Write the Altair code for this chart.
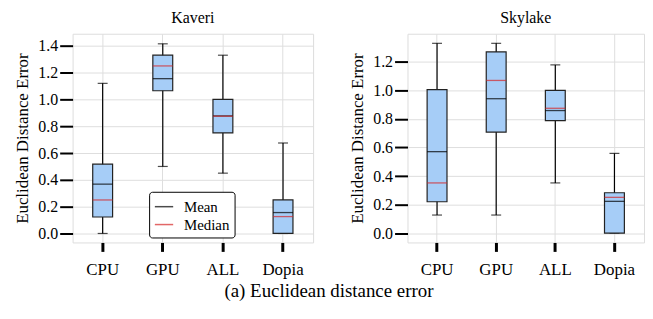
import altair as alt
import pandas as pd

cats = ["CPU", "GPU", "ALL", "Dopia"]

kaveri_low = [0.0, 0.50, 0.45, 0.0]
kaveri_q1 = [0.123, 1.065, 0.75, 0.0]
kaveri_q3 = [0.517, 1.33, 1.0, 0.25]
kaveri_high = [1.12, 1.415, 1.33, 0.675]
kaveri_mean = [0.368, 1.155, 0.877, 0.156]
kaveri_median = [0.25, 1.25, 0.875, 0.126]

skylake_low = [0.127, 0.127, 0.352, 0.0]
skylake_q1 = [0.22, 0.708, 0.789, 0.0]
skylake_q3 = [1.005, 1.27, 1.0, 0.283]
skylake_high = [1.33, 1.33, 1.179, 0.559]
skylake_mean = [0.571, 0.942, 0.859, 0.223]
skylake_median = [0.352, 1.07, 0.875, 0.251]

FONT = "Liberation Serif"
BOX_FILL = "#a6cdf7"
RED = "#d62728"
GRID = "#dedede"


def panel(title, low, q1, q3, high, mean, median, domain, ticks, width, legend):
    df = pd.DataFrame({"cat": cats, "low": low, "q1": q1, "q3": q3, "high": high})
    stats = pd.DataFrame({
        "cat": cats * 2,
        "value": mean + median,
        "stat": ["Mean"] * 4 + ["Median"] * 4,
    })
    xaxis = alt.Axis(labelAngle=0, tickWidth=3, tickSize=9, tickColor="black",
                     labelFontSize=17, labelPadding=10, domain=False,
                     grid=True, gridColor=GRID, bandPosition=0.5,
                     labelColor="black", labelFont=FONT)
    x = alt.X("cat:N", sort=cats, title=None,
              scale=alt.Scale(domain=cats, paddingInner=0, paddingOuter=0), axis=xaxis)
    yscale = alt.Scale(domain=domain, nice=False, zero=False)
    yaxis = alt.Axis(values=ticks, format=".1f", tickSize=13, tickWidth=2, tickColor="black",
                     labelFontSize=16, labelFont=FONT, labelColor="black", domain=False,
                     grid=True, gridColor=GRID, title="Euclidean Distance Error",
                     titleFontSize=17, titleFont=FONT, titleFontWeight="normal",
                     titleColor="black", titlePadding=6, labelPadding=2)

    def Y(field):
        return alt.Y(field, scale=yscale, axis=yaxis)

    base = alt.Chart(df)
    whisk = base.mark_rule(color="black", strokeWidth=1.2).encode(x=x, y=Y("low:Q"), y2="high:Q")
    cap_lo = base.mark_tick(color="black", size=10, thickness=1.2).encode(x=x, y=Y("low:Q"))
    cap_hi = base.mark_tick(color="black", size=10, thickness=1.2).encode(x=x, y=Y("high:Q"))
    box = base.mark_bar(size=20, fill=BOX_FILL, stroke="#222222", strokeWidth=1.2).encode(
        x=x, y=Y("q1:Q"), y2="q3:Q")
    sc = alt.Scale(domain=["Mean", "Median"], range=["black", RED])
    if legend:
        leg = alt.Legend(title=None, orient="none", legendX=77, legendY=159,
                         symbolType="stroke", symbolSize=340, symbolStrokeWidth=1.5,
                         labelFontSize=15, labelFont=FONT, labelColor="black",
                         fillColor="white", strokeColor="black", cornerRadius=3,
                         padding=5, rowPadding=0, labelOffset=10)
    else:
        leg = None
    lines = alt.Chart(stats).mark_tick(size=20, thickness=1.3, strokeWidth=0).encode(
        x=x, y=Y("value:Q"),
        fill=alt.Fill("stat:N", scale=sc, legend=leg),
        stroke=alt.Stroke("stat:N", scale=sc, legend=leg))
    return alt.layer(whisk, cap_lo, cap_hi, box, lines).properties(
        width=width, height=210,
        title=alt.Title(title, fontSize=16, font=FONT, fontWeight="normal", color="black",
                        offset=8))


left = panel("Kaveri", kaveri_low, kaveri_q1, kaveri_q3, kaveri_high, kaveri_mean, kaveri_median,
             [-0.067, 1.49], [0, 0.2, 0.4, 0.6, 0.8, 1.0, 1.2, 1.4], 242, True)
right = panel("Skylake", skylake_low, skylake_q1, skylake_q3, skylake_high, skylake_mean, skylake_median,
              [-0.065, 1.397], [0, 0.2, 0.4, 0.6, 0.8, 1.0, 1.2], 238, False)

chart = alt.hconcat(left, right, spacing=34).properties(
    padding={"left": 5, "top": 0, "right": 0, "bottom": 0},
    title=alt.Title("(a) Euclidean distance error", orient="bottom", anchor="middle", fontSize=19,
                    font=FONT, fontWeight="normal", color="black", offset=4)
).configure_view(stroke="black", strokeWidth=1.5).configure(background="white")

chart.save("out.html", embed_options={"renderer": "svg", "actions": False})
